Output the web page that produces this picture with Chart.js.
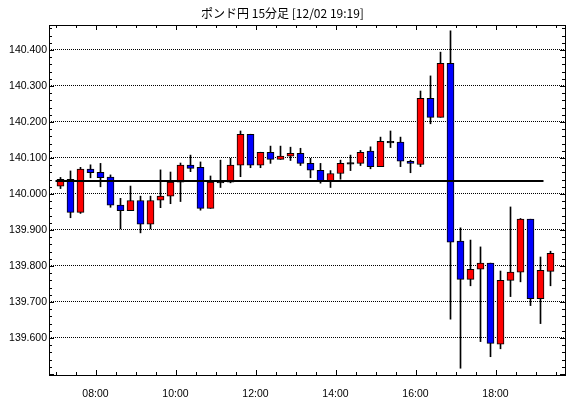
<!DOCTYPE html>
<html>
<head>
<meta charset="utf-8">
<script src="https://cdn.jsdelivr.net/npm/chart.js@4.4.0/dist/chart.umd.min.js"></script>
<style>
  body { margin: 0; background: #fff; }
  canvas { display: block; }
</style>
</head>
<body>
<canvas id="myChart" width="570" height="398"></canvas>
<script>
  // 15分足 (07:00 - 19:15)
  const times = ['07:00','07:15','07:30','07:45','08:00','08:15','08:30','08:45','09:00','09:15',
    '09:30','09:45','10:00','10:15','10:30','10:45','11:00','11:15','11:30','11:45',
    '12:00','12:15','12:30','12:45','13:00','13:15','13:30','13:45','14:00','14:15',
    '14:30','14:45','15:00','15:15','15:30','15:45','16:00','16:15','16:30','16:45',
    '17:00','17:15','17:30','17:45','18:00','18:15','18:30','18:45','19:00','19:15'];

  const open  = [140.022,140.041,139.949,140.069,140.060,140.047,139.969,139.954,139.982,139.916,
    139.983,139.994,140.033,140.080,140.074,139.960,140.031,140.033,140.080,140.166,
    140.080,140.116,140.096,140.105,140.113,140.085,140.066,140.035,140.057,140.083,
    140.085,140.119,140.076,140.146,140.144,140.091,140.082,140.266,140.213,140.363,
    139.869,139.763,139.791,139.808,139.583,139.760,139.783,139.930,139.709,139.785];
  const high  = [140.046,140.064,140.074,140.081,140.085,140.053,139.988,140.022,139.994,139.994,
    140.067,140.061,140.086,140.108,140.089,140.050,140.094,140.099,140.175,140.166,
    140.116,140.133,140.133,140.130,140.127,140.099,140.085,140.065,140.094,140.108,
    140.121,140.131,140.158,140.175,140.158,140.094,140.286,140.328,140.394,140.453,
    139.906,139.872,139.853,139.808,139.786,139.964,139.932,139.930,139.825,139.841];
  const low   = [140.015,139.934,139.946,140.045,140.020,139.963,139.903,139.954,139.892,139.903,
    139.962,139.973,139.979,140.062,139.955,139.960,140.018,140.031,140.048,140.073,
    140.073,140.085,140.096,140.093,140.079,140.045,140.030,140.018,140.041,140.065,
    140.079,140.070,140.076,140.129,140.076,140.059,140.076,140.195,140.213,139.652,
    139.516,139.745,139.590,139.548,139.570,139.715,139.756,139.690,139.640,139.745];
  const close = [140.041,139.949,140.069,140.059,140.045,139.969,139.954,139.982,139.916,139.982,
    139.994,140.033,140.080,140.071,139.960,140.033,140.035,140.080,140.166,140.080,
    140.116,140.096,140.105,140.113,140.085,140.066,140.035,140.057,140.085,140.087,
    140.116,140.076,140.146,140.142,140.091,140.085,140.266,140.213,140.363,139.866,
    139.763,139.791,139.808,139.585,139.760,139.783,139.930,139.709,139.788,139.835];

  // 基準線
  const baseLine = 140.036;
  const baseLineFrom = '07:00';
  const baseLineTo = '19:12';

  const xTickValues = ['08:00','10:00','12:00','14:00','16:00','18:00'];
  const yTickValues = [139.6,139.7,139.8,139.9,140.0,140.1,140.2,140.3,140.4];

  function toMin(t) {
    const p = t.split(':');
    return Number(p[0]) * 60 + Number(p[1]);
  }

  const wickData = times.map((t, i) => ({ x: toMin(t) + 7.5, y: [low[i], high[i]] }));
  const bodyData = times.map((t, i) => ({ x: toMin(t) + 7.5, y: [Math.min(open[i], close[i]), Math.max(open[i], close[i])] }));
  const bodyColors = times.map((t, i) => {
    if (Math.abs(close[i] - open[i]) <= 0.005) return '#000000';
    return close[i] > open[i] ? '#ff0000' : '#0000ff';
  });

  // 内側の目盛りと枠
  const framePlugin = {
    id: 'frame',
    afterDraw(chart) {
      const ctx = chart.ctx;
      const a = chart.chartArea;
      const xs = chart.scales.x, ys = chart.scales.y;
      ctx.save();
      ctx.strokeStyle = '#000';
      ctx.lineWidth = 1;
      ctx.beginPath();
      for (let k = 0; k <= 48; k++) {
        const v = 139.5 + k * 0.02;
        const y = Math.round(ys.getPixelForValue(v)) + 0.5;
        if (y < a.top || y > a.bottom) continue;
        const len = (k % 5 === 0) ? 5 : 3;
        ctx.moveTo(a.left, y); ctx.lineTo(a.left + len, y);
        ctx.moveTo(a.right, y); ctx.lineTo(a.right - len, y);
      }
      for (let m = 420; m <= 1170; m += 30) {
        const x = Math.round(xs.getPixelForValue(m)) + 0.5;
        const len = (m % 120 === 0) ? 5 : 3;
        ctx.moveTo(x, a.bottom); ctx.lineTo(x, a.bottom - len);
        ctx.moveTo(x, a.top); ctx.lineTo(x, a.top + len);
      }
      ctx.stroke();
      ctx.strokeRect(a.left + 0.5, a.top + 0.5, a.right - a.left, a.bottom - a.top);
      ctx.restore();
    }
  };

  const ctx = document.getElementById('myChart').getContext('2d');
  const myChart = new Chart(ctx, {
    type: 'bar',
    data: {
      datasets: [{
        type: 'line',
        data: [{ x: toMin(baseLineFrom), y: baseLine }, { x: toMin(baseLineTo), y: baseLine }],
        borderColor: '#000',
        borderWidth: 2,
        pointRadius: 0,
        order: 0
      }, {
        data: bodyData,
        backgroundColor: bodyColors,
        borderColor: '#000',
        borderWidth: 1,
        borderSkipped: false,
        barThickness: 7,
        order: 1
      }, {
        data: wickData,
        backgroundColor: '#000',
        borderWidth: 0,
        barThickness: 1,
        order: 2
      }]
    },
    options: {
      responsive: false,
      animation: false,
      devicePixelRatio: 1,
      layout: { padding: { left: 0, right: 5, top: 0, bottom: 0 } },
      datasets: { bar: { grouped: false } },
      plugins: {
        legend: { display: false },
        tooltip: { enabled: false },
        title: {
          display: true,
          text: 'ポンド円 15分足 [12/02 19:19]',
          color: '#000',
          font: { family: '"Noto Sans CJK JP", sans-serif', size: 12, weight: 'normal' },
          padding: { top: 6, bottom: 4.6 }
        }
      },
      scales: {
        x: {
          type: 'linear',
          min: 410.25,
          max: 1184.25,
          offset: false,
          afterBuildTicks(scale) { scale.ticks = xTickValues.map(t => ({ value: toMin(t) })); },
          afterFit(scale) { scale.height = 23; },
          ticks: {
            color: '#000',
            padding: 5,
            font: { family: '"Liberation Sans", Arial, sans-serif', size: 10.5 },
            callback: (v, i) => xTickValues[i]
          },
          grid: { display: false },
          border: { display: false }
        },
        y: {
          min: 139.4972,
          max: 140.4694,
          afterBuildTicks(scale) { scale.ticks = yTickValues.map(v => ({ value: v })); },
          afterFit(scale) { scale.width = 49; },
          ticks: {
            color: '#000',
            padding: 2,
            font: { family: '"Liberation Sans", Arial, sans-serif', size: 10.5 },
            callback: v => v.toFixed(3)
          },
          grid: { color: '#000', lineWidth: 1, drawTicks: false },
          border: { display: false, dash: [1, 1] }
        }
      }
    },
    plugins: [framePlugin]
  });
</script>
</body>
</html>
